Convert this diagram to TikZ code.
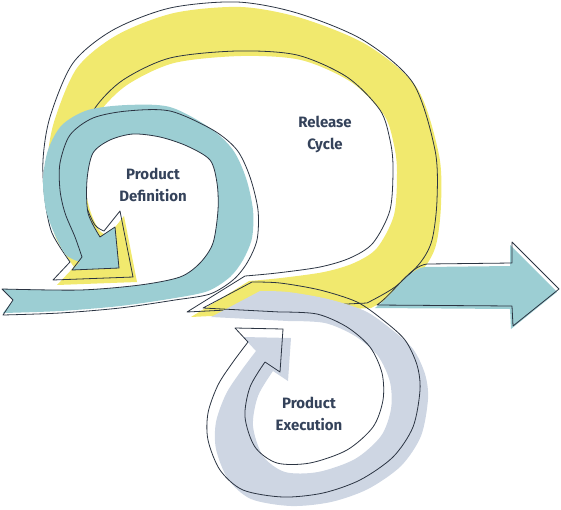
\documentclass[tikz,border=0pt]{standalone}
\usepackage{fontspec}
\setmainfont{Fira Sans}
\usepackage{tikz}

\definecolor{relyellow}{HTML}{F1E96E}
\definecolor{defteal}{HTML}{9CCED3}
\definecolor{exegray}{HTML}{CED6E3}
\definecolor{inkline}{HTML}{2B3442}
\definecolor{labelink}{HTML}{34425A}

\newcommand{\releasepath}{(187,312) -- (245,276) -- plot[smooth] coordinates {(245,276) (277,273) (320,267) (350,258) (373,243) (390,210) (393,167) (390,140) (380,110) (347,77) (297,55) (237,51) (170,58) (123,80) (95,108) (82,140) (80,175) (86,205) (95,225) (104,231)} -- (120,211) -- (133,277) -- (53,280) -- (70,262) -- plot[smooth] coordinates {(70,262) (52,233) (45,200) (43,160) (50,117) (73,63) (113,30) (170,8) (237,2) (297,13) (363,40) (413,83) (435,150) (437,200) (432,240) (420,263) (395,287) (367,303)} -- cycle}
\newcommand{\definnerside}{-- (72,270) -- (119,268) -- (115,227) -- (100,237) -- plot[smooth] coordinates {(100,237) (88,213) (87,180) (93,153) (110,140) (133,134) (160,137) (187,146) (210,160) (217,183) (218,210) (213,243) (200,263) (180,277) (140,285) (80,290) (2,289)} -- cycle}
\newcommand{\definitionpath}{(2,289) -- (13,300) -- (3,315) -- plot[smooth] coordinates {(3,315) (60,313) (120,308) (175,300) (210,294) (233,280) (247,263) (257,240) (258,210) (250,177) (237,150) (213,130) (170,111) (127,111) (93,118) (70,135) (60,163) (60,190) (65,213) (75,237) (82,257)} \definnerside}
\newcommand{\definitionfill}{(2,289) -- (13,300) -- (3,313) -- plot[smooth] coordinates {(3,313) (60,311) (120,306) (175,298) (208,291) (230,277) (243,260) (252,238) (253,210) (246,178) (233,150) (210,128) (170,107) (127,105) (88,110) (62,125) (48,150) (43,180) (46,210) (55,235) (66,255) (80,262)} \definnerside}
\newcommand{\executionpath}{(203,308) -- (252,282) -- plot[smooth] coordinates {(252,282) (280,283) (320,290) (357,302) (383,320) (405,340) (417,365) (420,390) (413,427) (393,457) (360,480) (323,493) (283,497) (243,490) (220,470) (208,440) (208,413) (218,385) (233,362) (248,342)} -- (235,328) -- (283,329) -- (280,372) -- (265,362) -- plot[smooth] coordinates {(265,362) (250,387) (245,417) (255,447) (277,463) (310,463) (347,450) (373,427) (383,400) (382,373) (370,347) (347,327) (317,314) (280,312)} -- cycle}
\newcommand{\shippath}{(377,305) .. controls (395,292) and (410,266) .. (427,264) -- (512,263) -- (512,242) -- (559,289) -- (513,326) -- (512,306) -- cycle}

\begin{document}
\begin{tikzpicture}[x=1pt,y=-1pt,line join=round,
    outline/.style={draw=inkline,line width=0.8pt},
    lbl/.style={align=center,text=labelink,font=\fontsize{15}{22}\selectfont\bfseries}]
    \useasboundingbox (0,0) rectangle (561,509);
    \fill[relyellow,shift={(4,5)}] \releasepath;
    \path[outline] \releasepath;
    \fill[defteal] \definitionfill;
    \path[outline] \definitionpath;
    \fill[exegray,shift={(8,9)}] \executionpath;
    \path[outline] \executionpath;
    \fill[defteal,shift={(-2,3)}] \shippath;
    \path[outline] \shippath;
    \node[lbl] (def) at (153,185) {Product\\Definition};
    \node[lbl] (rel) at (325,134) {Release\\Cycle};
    \node[lbl] (exe) at (309,414) {Product\\Execution};
\end{tikzpicture}
\end{document}
